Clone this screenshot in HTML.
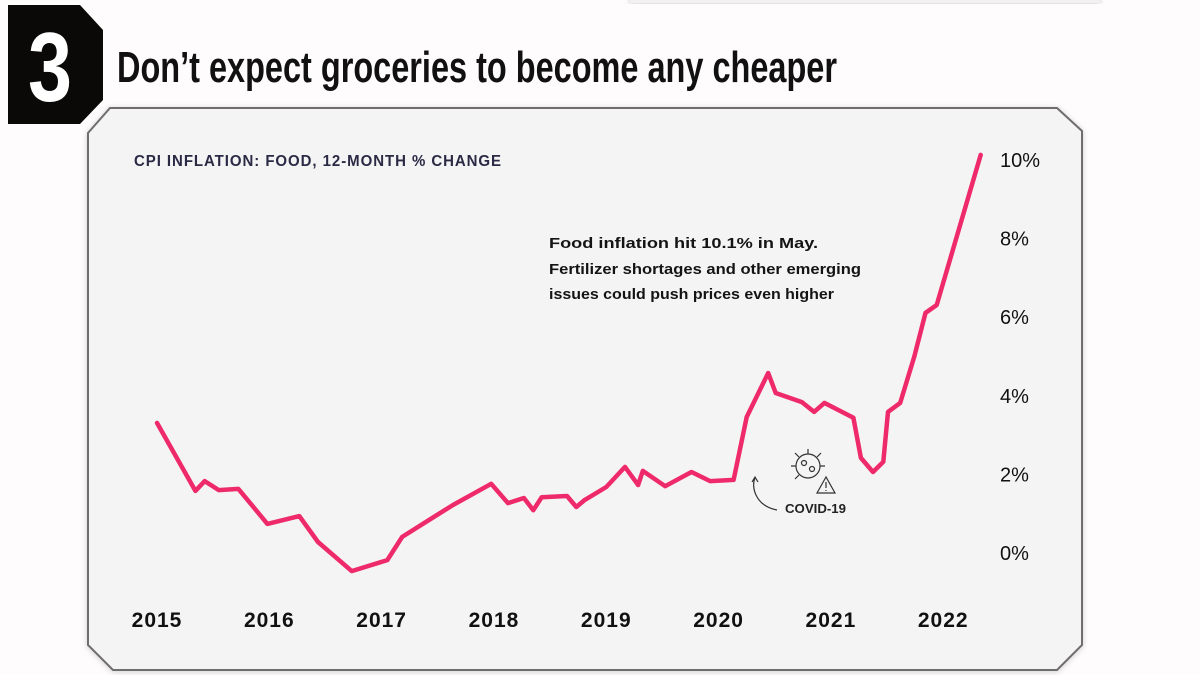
<!DOCTYPE html>
<html><head><meta charset="utf-8">
<style>
html,body{margin:0;padding:0;background:#fefcfc;}
svg{display:block;font-family:"Liberation Sans",sans-serif;}
</style></head>
<body>
<svg width="1200" height="675" viewBox="0 0 1200 675">
  <defs>
    <filter id="sh" x="-5%" y="-5%" width="110%" height="110%">
      <feDropShadow dx="0" dy="1" stdDeviation="3" flood-color="#000" flood-opacity="0.18"/>
    </filter>
  </defs>
  <rect x="630" y="-10" width="470" height="13" fill="#f2f1f1" filter="url(#sh)"/>
  <polygon points="8,5 80,5 103,30 103,100 80,124 8,124" fill="#0a0907"/>
  <text x="50" y="101" text-anchor="middle" font-size="98" font-weight="bold" fill="#fff" textLength="44" lengthAdjust="spacingAndGlyphs">3</text>
  <text x="117" y="82" font-size="44" font-weight="bold" fill="#111" textLength="720" lengthAdjust="spacingAndGlyphs">Don’t expect groceries to become any cheaper</text>
  <polygon points="110,108 1057,108 1082,131 1082,645 1057,670 113,670 88,645 88,133" fill="#f5f4f5" stroke="#6e6e6e" stroke-width="2" filter="url(#sh)"/>
  <text x="134" y="166" font-size="16" font-weight="bold" fill="#2a2a45" textLength="368" lengthAdjust="spacingAndGlyphs" letter-spacing="1">CPI INFLATION: FOOD, 12-MONTH % CHANGE</text>
  <g font-size="15" font-weight="bold" fill="#141414">
    <text x="549" y="248" textLength="269" lengthAdjust="spacingAndGlyphs">Food inflation hit 10.1% in May.</text>
    <text x="549" y="274" textLength="312" lengthAdjust="spacingAndGlyphs">Fertilizer shortages and other emerging</text>
    <text x="549" y="299" textLength="285" lengthAdjust="spacingAndGlyphs">issues could push prices even higher</text>
  </g>
  <g id="yaxis"></g>
  <g id="xaxis"></g>
  <g id="series"></g>
  <g fill="none" stroke="#333" stroke-width="1.2">
    <circle cx="808" cy="466" r="12"/>
    <circle cx="804" cy="463" r="2.5"/><circle cx="812" cy="469" r="2.5"/>
    <path d="M808 454v-5M820 466h5M796 466h-5M799 457l-4-4M817 457l4-4M799 475l-4 4"/>
    <path d="M826 477l-9 16h18z"/>
    <path d="M826 482v6M826 490v1"/>
    <path d="M755 478c-4 8 0 28 22 32M752 482l3-5 3 5"/>
  </g>
  <text x="785" y="513" font-size="13" font-weight="bold" fill="#222" textLength="61" lengthAdjust="spacingAndGlyphs">COVID-19</text>
  <script>
    const monthIdx = [0,4.1,5.1,6.6,8.7,11.8,15.2,17.2,20.8,24.6,26.2,29.6,31.6,35.7,37.5,39.2,40.2,41.1,43.8,44.8,45.7,48.0,50.0,51.4,51.9,54.3,57.1,59.1,61.6,63.0,65.3,66.1,68.9,70.2,71.3,74.4,75.2,76.5,77.6,78.1,79.4,80.9,82.1,83.3,88];
    const values = [3.31,1.58,1.83,1.60,1.63,0.74,0.94,0.28,-0.46,-0.18,0.41,0.92,1.22,1.76,1.27,1.40,1.09,1.42,1.45,1.17,1.35,1.68,2.19,1.73,2.09,1.70,2.06,1.83,1.86,3.46,4.58,4.07,3.84,3.59,3.82,3.44,2.42,2.06,2.32,3.59,3.82,4.99,6.11,6.31,10.13];
    const yearLabels = ['2015','2016','2017','2018','2019','2020','2021','2022'];
    const yTicks = [0,2,4,6,8,10];
    const NS = 'http://www.w3.org/2000/svg';
    function xs(m){ return 157 + m*9.36; }
    function ys(v){ return 553 - v*39.3; }
    const yg = document.getElementById('yaxis');
    yTicks.forEach(function(t){
      const tx = document.createElementNS(NS,'text');
      tx.setAttribute('x', 1000); tx.setAttribute('y', ys(t)+7);
      tx.setAttribute('font-size','20'); tx.setAttribute('fill','#111');
      tx.textContent = t + '%';
      
      
      yg.appendChild(tx);
    });
    const xg = document.getElementById('xaxis');
    yearLabels.forEach(function(l,i){
      const tx = document.createElementNS(NS,'text');
      tx.setAttribute('x', xs(i*12)); tx.setAttribute('y', 627);
      tx.setAttribute('text-anchor','middle');
      tx.setAttribute('font-size','21'); tx.setAttribute('font-weight','bold'); tx.setAttribute('fill','#111');
      tx.setAttribute('letter-spacing','1');
      tx.textContent = l;
      
      
      xg.appendChild(tx);
    });
    const pts = monthIdx.map(function(m,i){ return xs(m).toFixed(1)+','+ys(values[i]).toFixed(1); }).join(' ');
    const pl = document.createElementNS(NS,'polyline');
    pl.setAttribute('points', pts);
    pl.setAttribute('fill','none'); pl.setAttribute('stroke','#ee2a6b');
    pl.setAttribute('stroke-width','4.5'); pl.setAttribute('stroke-linejoin','round'); pl.setAttribute('stroke-linecap','round');
    
    
    document.getElementById('series').appendChild(pl);
  </script>
</svg>
</body></html>
